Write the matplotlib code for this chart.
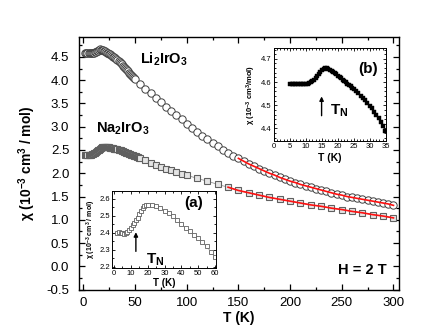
import numpy as np
import matplotlib
matplotlib.use('Agg')
import matplotlib.pyplot as plt
from matplotlib.ticker import MultipleLocator

plt.rcParams['font.family'] = ['Liberation Sans', 'DejaVu Sans']
plt.rcParams['mathtext.fontset'] = 'custom'
plt.rcParams['mathtext.rm'] = 'Liberation Sans'
plt.rcParams['mathtext.bf'] = 'Liberation Sans:bold'
plt.rcParams['mathtext.it'] = 'Liberation Sans:italic'

# ---------------- data ----------------
# Li2IrO3, main panel
li_T = [2, 3, 4, 5, 6, 7, 8, 9, 10, 11, 12, 13, 14, 15, 16, 17, 18, 19, 20,
        21, 22, 23, 24, 25, 26, 27, 28, 29, 30, 31, 32, 33, 34, 35, 36, 37, 38,
        39, 40, 41, 42, 43, 44, 45, 46, 47, 48, 49,
        50, 55, 60, 65, 70, 75, 80, 85, 90, 95, 100, 105, 110, 115, 120, 125,
        130, 135, 140, 145, 150, 155, 160, 165, 170, 175, 180, 185, 190, 195,
        200, 205, 210, 215, 220, 225, 230, 235, 240, 245, 250, 255, 260, 265,
        270, 275, 280, 285, 290, 295, 300]
li_chi = [4.59, 4.59, 4.59, 4.59, 4.59, 4.59, 4.59, 4.59, 4.59, 4.595, 4.604,
          4.617, 4.634, 4.651, 4.66, 4.657, 4.648, 4.638, 4.628, 4.617, 4.605,
          4.593, 4.581, 4.569, 4.555, 4.54, 4.525, 4.507, 4.49, 4.47, 4.45,
          4.43, 4.405, 4.385, 4.36, 4.34, 4.315, 4.29, 4.265, 4.24, 4.215,
          4.19, 4.165, 4.14, 4.115, 4.09, 4.065, 4.04,
          4.02, 3.92, 3.82, 3.72, 3.62, 3.53, 3.43, 3.34, 3.25, 3.16, 3.06,
          2.98, 2.89, 2.81, 2.73, 2.65, 2.58, 2.51, 2.44, 2.38, 2.32, 2.26,
          2.20, 2.15, 2.10, 2.05, 2.00, 1.96, 1.91, 1.87, 1.83, 1.80, 1.76,
          1.73, 1.70, 1.67, 1.64, 1.61, 1.58, 1.55, 1.53, 1.50, 1.48, 1.46,
          1.44, 1.42, 1.40, 1.38, 1.36, 1.34, 1.31]

# Na2IrO3, main panel
na_T = [2, 3, 4, 5, 6, 7, 8, 9, 10, 11, 12, 13, 14, 15, 16, 17, 18, 19, 20,
        21, 22, 23, 24, 25, 26, 27, 28, 29, 30, 31, 32, 33, 34, 35, 36, 37, 38,
        39, 40, 41, 42, 43, 44, 45, 46, 47, 48, 49, 50, 51, 52, 53, 54, 55,
        60, 65, 70, 75, 80, 85, 90, 95, 100, 110, 120, 130, 140, 150, 160,
        170, 180, 190, 200, 210, 220, 230, 240, 250, 260, 270, 280, 290, 300]
na_chi = [2.40, 2.40, 2.40, 2.397, 2.395, 2.397, 2.405, 2.415, 2.43, 2.445,
          2.46, 2.475, 2.49, 2.51, 2.53, 2.545, 2.557, 2.563, 2.566, 2.567,
          2.566, 2.563, 2.56, 2.556, 2.551, 2.546, 2.54, 2.535, 2.53, 2.524,
          2.518, 2.512, 2.506, 2.50, 2.49, 2.48, 2.47, 2.46, 2.45, 2.442,
          2.434, 2.426, 2.418, 2.41, 2.402, 2.394, 2.386, 2.378, 2.37, 2.36,
          2.35, 2.34, 2.33, 2.32,
          2.28, 2.23, 2.18, 2.14, 2.10, 2.06, 2.03, 1.99, 1.96, 1.89, 1.83,
          1.76, 1.70, 1.63, 1.58, 1.53, 1.48, 1.44, 1.40, 1.36, 1.32, 1.29,
          1.25, 1.22, 1.18, 1.15, 1.11, 1.08, 1.04]

# high-temperature fit ranges
li_fit_from = 150
na_fit_from = 140

# inset (a): Na2IrO3 low T
a_T = [2, 3, 4, 5, 6, 7, 8, 9, 10, 11, 12, 13, 14, 15, 16, 17, 18, 19, 20,
       22.5, 25, 27.5, 30, 32.5, 35, 37.5, 40, 42.5, 45, 47.5, 50, 52.5, 55,
       57.5, 60]
a_chi = [2.40, 2.403, 2.40, 2.397, 2.395, 2.397, 2.405, 2.415, 2.43, 2.445,
         2.46, 2.475, 2.49, 2.51, 2.53, 2.545, 2.557, 2.563, 2.566, 2.565,
         2.556, 2.543, 2.53, 2.515, 2.50, 2.478, 2.45, 2.43, 2.41, 2.39,
         2.37, 2.345, 2.32, 2.29, 2.26]

# inset (b): Li2IrO3 low T
b_T = [5, 5.5, 6, 6.5, 7, 7.5, 8, 8.5, 9, 9.5, 10, 10.5, 11, 11.5, 12, 12.5,
       13, 13.5, 14, 14.5, 15, 15.5, 16, 16.5, 17, 17.5, 18, 18.5, 19, 19.5,
       20, 20.5, 21, 21.5, 22, 22.5, 23, 23.5, 24, 24.5, 25,
       25.7, 26.4, 27.1, 27.8, 28.5, 29.2, 29.9, 30.6, 31.3, 32.0, 32.7, 33.4,
       34.1, 34.8]
b_chi = [4.59, 4.59, 4.59, 4.59, 4.59, 4.59, 4.59, 4.59, 4.59, 4.59, 4.59,
         4.592, 4.595, 4.599, 4.604, 4.61, 4.617, 4.625, 4.634, 4.643, 4.651,
         4.657, 4.66, 4.66, 4.657, 4.653, 4.648, 4.643, 4.638, 4.633, 4.628,
         4.622, 4.617, 4.611, 4.605, 4.599, 4.593, 4.587, 4.581, 4.575, 4.569,
         4.561, 4.552, 4.542, 4.532, 4.521, 4.510, 4.498, 4.486, 4.473, 4.459,
         4.444, 4.428, 4.410, 4.388]

# ---------------- figure ----------------
fig = plt.figure(figsize=(4.39, 3.25), dpi=100)
ax = fig.add_axes([0.18, 0.109, 0.729, 0.776])

li_T_arr = np.array(li_T); li_chi_arr = np.array(li_chi)
na_T_arr = np.array(na_T); na_chi_arr = np.array(na_chi)

ax.plot(na_T_arr, na_chi_arr, '-', color='#999999', lw=0.6, zorder=2)
ax.plot(na_T_arr, na_chi_arr, 's', ms=4.6, mfc='#e4e4e4', mec='#606060',
        mew=0.8, zorder=3)
ax.plot(li_T_arr, li_chi_arr, 'o', ms=5.3, mfc='white', mec='#404040',
        mew=0.7, zorder=3)

m = li_T_arr >= li_fit_from
ax.plot(li_T_arr[m], li_chi_arr[m], '-', color='#ff1010', lw=1.2, zorder=4)
m = na_T_arr >= na_fit_from
ax.plot(na_T_arr[m], na_chi_arr[m], '-', color='#ff1010', lw=1.2, zorder=4)

ax.set_xlim(-4.2, 305.4)
ax.set_ylim(-0.5, 4.92)
ax.xaxis.set_major_locator(MultipleLocator(50))
ax.xaxis.set_minor_locator(MultipleLocator(25))
ax.yaxis.set_major_locator(MultipleLocator(0.5))
ax.yaxis.set_minor_locator(MultipleLocator(0.25))
ax.yaxis.set_major_formatter(plt.FuncFormatter(lambda v, p: f'{v:.1f}'))
ax.tick_params(which='both', direction='in', top=True, right=True,
               width=0.9, labelsize=9.5)
ax.tick_params(which='major', length=4.5)
ax.tick_params(which='minor', length=2.5)
ax.tick_params(axis='x', pad=5)
ax.tick_params(axis='y', pad=7)
for s in ax.spines.values():
    s.set_linewidth(1.0)

ax.set_xlabel('T (K)', fontsize=10, fontweight='bold', labelpad=2)
ax.set_ylabel(r'χ (10$^{\mathbf{-3}}$ cm$^{\mathbf{3}}$ / mol)', fontsize=10,
              fontweight='bold', labelpad=6)

ax.text(55, 4.45, r'Li$_{\mathbf{2}}$IrO$_{\mathbf{3}}$', fontsize=10.5,
        fontweight='bold', va='center', ha='left')
ax.text(12, 2.95, r'Na$_{\mathbf{2}}$IrO$_{\mathbf{3}}$', fontsize=10.5,
        fontweight='bold', va='center', ha='left')
ax.text(293, -0.08, 'H = 2 T', fontsize=10.5, fontweight='bold',
        va='center', ha='right')

# ---------------- inset (a) ----------------
axa = fig.add_axes([0.2558, 0.176, 0.236, 0.236])
axa.plot(a_T, a_chi, '-', color='#888888', lw=0.5)
axa.plot(a_T, a_chi, 's', ms=3.0, mfc='white', mec='#606060', mew=0.6)
axa.set_xlim(-1, 60.5)
axa.set_ylim(2.195, 2.645)
axa.xaxis.set_major_locator(MultipleLocator(10))
axa.xaxis.set_minor_locator(MultipleLocator(5))
axa.yaxis.set_major_locator(MultipleLocator(0.1))
axa.yaxis.set_minor_locator(MultipleLocator(0.05))
axa.tick_params(which='both', direction='in', top=True, right=True,
                labelsize=5.5, width=0.6, pad=1.5)
axa.tick_params(which='major', length=2.5)
axa.tick_params(which='minor', length=1.5)
for s in axa.spines.values():
    s.set_linewidth(0.7)
axa.set_xlabel('T (K)', fontsize=7, fontweight='bold', labelpad=1)
axa.set_ylabel(r'χ (10$^{\mathbf{-3}}$ cm$^{\mathbf{3}}$ / mol)', fontsize=5,
               fontweight='bold', labelpad=1.5)
axa.annotate('', xy=(13, 2.42), xytext=(13, 2.275),
             arrowprops=dict(arrowstyle='-|>', color='black', lw=1.0,
                             mutation_scale=6))
axa.text(19, 2.24, r'T$_{\mathbf{N}}$', fontsize=11, fontweight='bold',
         va='center', ha='left')
axa.text(42, 2.575, '(a)', fontsize=11, fontweight='bold', va='center',
         ha='left')

# ---------------- inset (b) ----------------
axb = fig.add_axes([0.624, 0.567, 0.255, 0.284])
axb.plot(b_T, b_chi, 's', ms=3.2, mfc='black', mec='black', mew=0.3)
axb.set_xlim(0, 35)
axb.set_ylim(4.347, 4.745)
axb.xaxis.set_major_locator(MultipleLocator(5))
axb.xaxis.set_minor_locator(MultipleLocator(1))
axb.yaxis.set_major_locator(MultipleLocator(0.1))
axb.yaxis.set_minor_locator(MultipleLocator(0.02))
axb.tick_params(which='both', direction='in', top=True, right=True,
                labelsize=5.5, width=0.6, pad=1.5)
axb.tick_params(which='major', length=2.5)
axb.tick_params(which='minor', length=1.3)
for s in axb.spines.values():
    s.set_linewidth(0.7)
axb.set_xlabel('T (K)', fontsize=7.5, fontweight='bold', labelpad=2)
axb.set_ylabel(r'χ (10$^{\mathbf{-3}}$ cm$^{\mathbf{3}}$/mol)', fontsize=5.5,
               fontweight='bold', labelpad=2)
axb.annotate('', xy=(14.9, 4.55), xytext=(14.9, 4.443),
             arrowprops=dict(arrowstyle='-|>', color='black', lw=1.0,
                             mutation_scale=6))
axb.text(17.5, 4.475, r'T$_{\mathbf{N}}$', fontsize=11, fontweight='bold',
         va='center', ha='left')
axb.text(26.5, 4.655, '(b)', fontsize=11, fontweight='bold', va='center',
         ha='left')

fig.savefig('out.png', dpi=100)
